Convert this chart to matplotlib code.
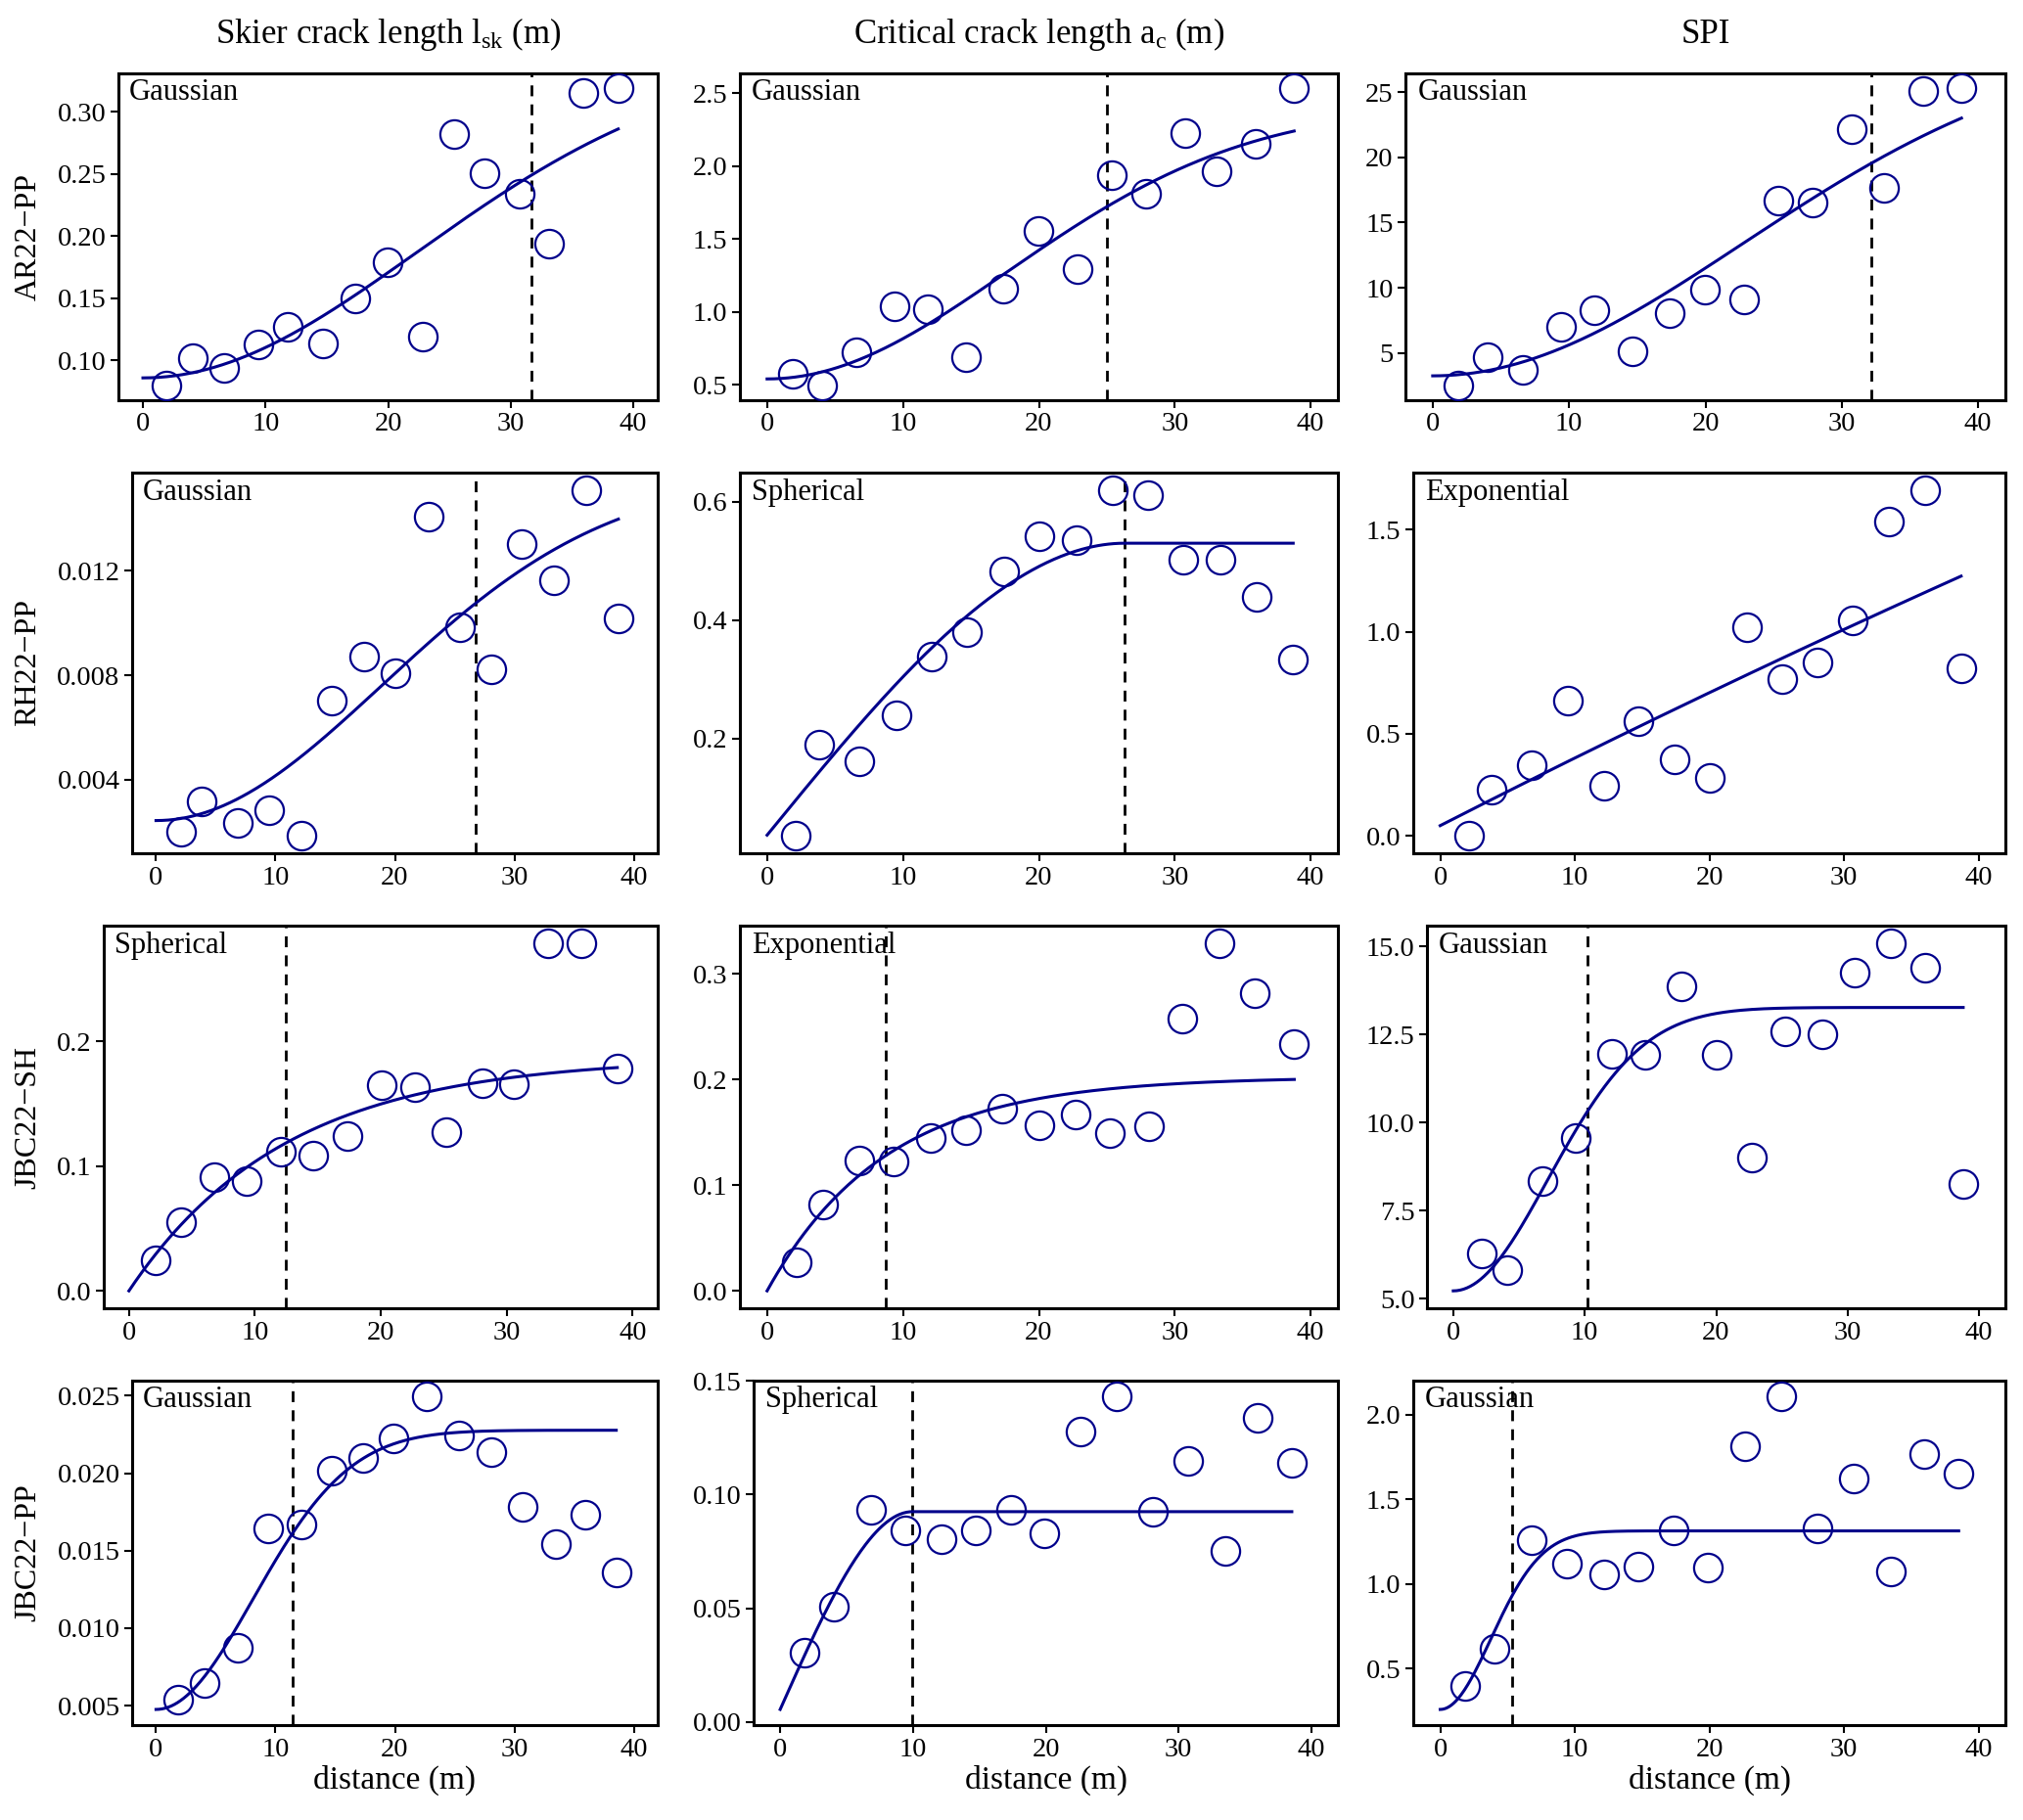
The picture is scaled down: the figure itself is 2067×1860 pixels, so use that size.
import numpy as np
import matplotlib
matplotlib.use("Agg")
import matplotlib.pyplot as plt

plt.rcParams["font.family"] = ["Liberation Serif", "DejaVu Serif"]
plt.rcParams["mathtext.fontset"] = "custom"
plt.rcParams["mathtext.rm"] = "Liberation Serif"
plt.rcParams["mathtext.it"] = "Liberation Serif:italic"

# column / row labels
col_titles = [r"Skier crack length $\mathrm{l_{sk}}$ (m)",
              r"Critical crack length $\mathrm{a_{c}}$ (m)",
              "SPI"]
row_titles = ["AR22\u2212PP", "RH22\u2212PP", "JBC22\u2212SH", "JBC22\u2212PP"]

# lag distances per site (m)
dist_ar22 = [1.9, 4.05, 6.6, 9.4, 11.85, 14.65, 17.35, 19.95, 22.85, 25.37, 27.85, 30.75, 33.1, 35.94, 38.78]
dist_rh22 = [2.12, 3.8, 6.81, 9.5, 12.15, 14.71, 17.41, 20.06, 22.8, 25.41, 28.03, 30.64, 33.34, 36.05, 38.71]
dist_jbcsh = [2.15, 4.13, 6.78, 9.34, 12.07, 14.61, 17.33, 20.05, 22.73, 25.23, 28.08, 30.55, 33.27, 35.91, 38.79]
dist_jbcpp = [1.84, 4.07, 6.81, 9.4, 12.17, 14.72, 17.37, 19.89, 22.63, 25.35, 28.06, 30.71, 33.51, 35.94, 38.53]
row_dist = [dist_ar22, dist_rh22, dist_jbcsh, dist_jbcpp]

# empirical semivariances, row by row (lsk, ac, SPI)
gamma_ar22_lsk = [0.080, 0.102, 0.0937, 0.113, 0.127, 0.114, 0.150, 0.179, 0.119, 0.282, 0.251, 0.234, 0.194, 0.315, 0.319]
gamma_ar22_ac = [0.573, 0.496, 0.722, 1.036, 1.018, 0.689, 1.162, 1.556, 1.296, 1.938, 1.807, 2.224, 1.967, 2.151, 2.533]
gamma_ar22_spi = [2.50, 4.68, 3.71, 6.99, 8.25, 5.10, 8.08, 9.85, 9.13, 16.70, 16.55, 22.16, 17.67, 25.12, 25.32]
gamma_rh22_lsk = [0.00200, 0.00317, 0.00233, 0.00281, 0.00184, 0.00703, 0.00872, 0.00807, 0.01406, 0.00983, 0.00824, 0.01303, 0.01162, 0.01510, 0.01018]
gamma_rh22_ac = [0.0356, 0.189, 0.162, 0.2386, 0.338, 0.380, 0.483, 0.541, 0.536, 0.620, 0.611, 0.502, 0.502, 0.439, 0.334]
gamma_rh22_spi = [0.0, 0.229, 0.347, 0.663, 0.248, 0.561, 0.376, 0.284, 1.023, 0.766, 0.848, 1.055, 1.538, 1.694, 0.8195]
gamma_jbcsh_lsk = [0.0247, 0.0551, 0.0909, 0.0883, 0.1117, 0.1083, 0.1239, 0.1647, 0.1634, 0.1273, 0.1662, 0.1655, 0.279, 0.279, 0.1784]
gamma_jbcsh_ac = [0.0267, 0.0814, 0.1234, 0.1228, 0.1449, 0.1526, 0.1722, 0.1572, 0.1673, 0.1492, 0.156, 0.2579, 0.3294, 0.2819, 0.2337]
gamma_jbcsh_spi = [6.29, 5.82, 8.33, 9.56, 11.95, 11.93, 13.87, 11.92, 9.01, 12.58, 12.50, 14.25, 15.10, 14.39, 8.26]
gamma_jbcpp_lsk = [0.00538, 0.00646, 0.00876, 0.01642, 0.01671, 0.02016, 0.02097, 0.02224, 0.02496, 0.02241, 0.02133, 0.0178, 0.0154, 0.01734, 0.01362]
gamma_jbcpp_ac = [0.0306, 0.0507, 0.0934, 0.0842, 0.0802, 0.0842, 0.0934, 0.0828, 0.1279, 0.1433, 0.0923, 0.1148, 0.0752, 0.134, 0.1142]
gamma_jbcpp_spi = [0.397, 0.615, 1.256, 1.122, 1.055, 1.103, 1.314, 1.096, 1.813, 2.109, 1.329, 1.622, 1.071, 1.769, 1.654]
gammas = [[gamma_ar22_lsk, gamma_ar22_ac, gamma_ar22_spi],
          [gamma_rh22_lsk, gamma_rh22_ac, gamma_rh22_spi],
          [gamma_jbcsh_lsk, gamma_jbcsh_ac, gamma_jbcsh_spi],
          [gamma_jbcpp_lsk, gamma_jbcpp_ac, gamma_jbcpp_spi]]

# fitted variogram models: label shown, curve shape, nugget, partial sill, range
model_label = [["Gaussian", "Gaussian", "Gaussian"],
               ["Gaussian", "Spherical", "Exponential"],
               ["Spherical", "Exponential", "Gaussian"],
               ["Gaussian", "Spherical", "Gaussian"]]
model_shape = [["Gau", "Gau", "Gau"],
               ["Gau", "Sph", "Exp"],
               ["Exp", "Exp", "Gau"],
               ["Gau", "Sph", "Gau"]]
nugget = [[0.086, 0.54, 3.23],
          [0.00243, 0.037, 0.0505],
          [0.0, 0.0, 5.22],
          [0.00475, 0.0054, 0.257]]
psill = [[0.258, 1.868, 25.86],
         [0.01318, 0.493, 10.09],
         [0.1874, 0.2026, 8.05],
         [0.01802, 0.0871, 1.056]]
vrange = [[31.7, 25.0, 32.2],
          [26.77, 26.33, 300.0],
          [12.44, 8.73, 10.19],
          [11.45, 9.96, 5.31]]

# y ticks per panel
yticks = [[[0.10, 0.15, 0.20, 0.25, 0.30], [0.5, 1.0, 1.5, 2.0, 2.5], [5, 10, 15, 20, 25]],
          [[0.004, 0.008, 0.012], [0.2, 0.4, 0.6], [0.0, 0.5, 1.0, 1.5]],
          [[0.0, 0.1, 0.2], [0.0, 0.1, 0.2, 0.3], [5.0, 7.5, 10.0, 12.5, 15.0]],
          [[0.005, 0.010, 0.015, 0.020, 0.025], [0.00, 0.05, 0.10, 0.15], [0.5, 1.0, 1.5, 2.0]]]
ydec = [[2, 1, 0], [3, 1, 1], [1, 1, 1], [3, 2, 1]]
xticks = [0, 10, 20, 30, 40]


def model_curve(kind, c0, c, a, h):
    if kind == "Gau":
        return c0 + c * (1 - np.exp(-(h / a) ** 2))
    if kind == "Exp":
        return c0 + c * (1 - np.exp(-h / a))
    s = np.where(h < a, 1.5 * h / a - 0.5 * (h / a) ** 3, 1.0)
    return c0 + c * s


W, H = 2067, 1860
fig = plt.figure(figsize=(W / 100, H / 100), dpi=100)

lefts = [[121, 756, 1436], [135, 756, 1444], [106, 756, 1458], [135, 770, 1444]]
rights = [672, 1367, 2049]
rows_tb = [(75, 409), (483, 872), (946, 1337), (1411, 1763)]
navy = "#00008B"

for i in range(4):
    top, bot = rows_tb[i]
    for j in range(3):
        l = lefts[i][j]
        ax = fig.add_axes([l / W, 1 - bot / H, (rights[j] - l) / W, (bot - top) / H])
        d = np.array(row_dist[i])
        g = np.array(gammas[i][j])
        h = np.linspace(0, d.max(), 300)
        ax.plot(h, model_curve(model_shape[i][j], nugget[i][j], psill[i][j], vrange[i][j], h),
                color=navy, lw=2.2, zorder=2)
        ax.plot(d, g, "o", ms=21, mfc="none", mec=navy, mew=1.6, zorder=3)
        if vrange[i][j] < 40:
            ax.axvline(vrange[i][j], color="black", lw=2.0, ls=(0, (4, 3)), zorder=1)
        ax.set_xlim(-2, 42)
        ax.margins(y=0.05)
        ax.set_xticks(xticks)
        ax.set_yticks(yticks[i][j])
        ax.set_yticklabels([f"{v:.{ydec[i][j]}f}" for v in yticks[i][j]])
        ax.tick_params(labelsize=20.5, length=6, width=1.5, direction="out", pad=3)
        for sp in ax.spines.values():
            sp.set_linewidth(2.2)
        ax.text(0.02, 0.985, model_label[i][j], transform=ax.transAxes,
                ha="left", va="top", fontsize=22)
        if i == 3:
            ax.set_xlabel("distance (m)", fontsize=24, labelpad=2)
    fig.text(29 / W, 1 - (top + bot) / 2 / H, row_titles[i], rotation=90,
             ha="center", va="center", fontsize=23)

for j in range(3):
    cx = (lefts[0][j] + rights[j]) / 2
    fig.text(cx / W, 1 - 35 / H, col_titles[j], ha="center", va="center", fontsize=25)

fig.savefig("out.png", dpi=100)
